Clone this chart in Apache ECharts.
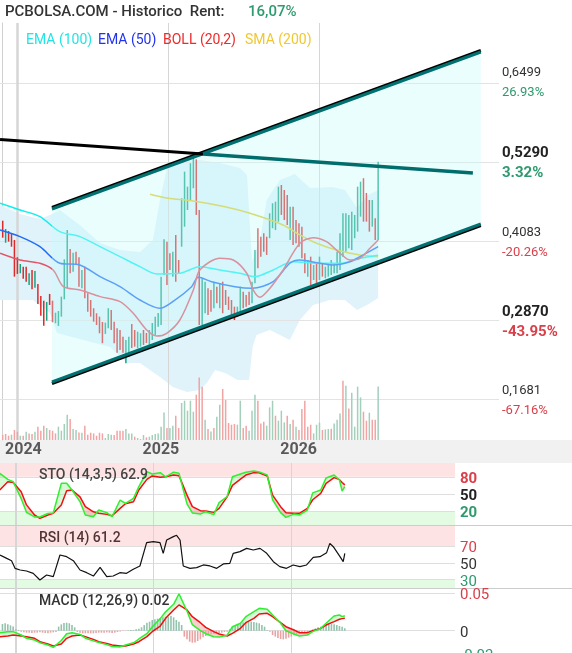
<!DOCTYPE html>
<html><head><meta charset="utf-8">
<script src="https://cdn.jsdelivr.net/npm/echarts@6/dist/echarts.min.js"></script>
<style>html,body{margin:0;padding:0;background:#fff}#c{width:572px;height:653px}</style>
</head><body><div id="c"></div><script>
// ---------- DATA (x = weekly bar index) ----------
const barHigh = [.4413,.4287,.4257,.4222,.4121,.3859,.3757,.3716,.3716,.3616,.3666,.3651,.3454,.3272,.3201,.3181,.3303,.3201,.3019,.3045,
.3262,.3828,.4272,.3984,.3928,.3944,.3859,.3666,.3716,.3313,.3211,.3086,.3010,.2959,.2878,.2868,.3086,.3060,.2883,.2783,
.2757,.2656,.2605,.2656,.2848,.2757,.2731,.2707,.2757,.2712,.2757,.2863,.2959,.3015,.3565,.4131,.4095,.3919,.3944,.4197,
.3817,.4753,.5156,.4928,.5283,.5359,.5343,.4575,.3540,.3489,.3389,.3363,.3489,.3413,.3465,.3489,.3363,.3262,.3211,.3110,
.3110,.3413,.3338,.3287,.3338,.3489,.3969,.4298,.4171,.4222,.4171,.4525,.4677,.4701,.4928,.4954,.4878,.4803,.4625,.4625,
.4423,.4374,.4322,.3919,.3817,.3868,.3742,.3767,.3868,.3767,.3716,.3742,.3817,.3767,.3944,.4222,.4525,.4525,.4500,.4550,
.4500,.4928,.5004,.5056,.4833,.4726,.4726,.4449,.5307];
const barLow = [.4155,.4079,.4095,.4019,.3565,.3606,.3616,.3534,.3489,.3439,.3374,.3398,.3151,.2974,.2822,.2898,.3136,.2874,.2859,.2818,
.2959,.3222,.3389,.3616,.3640,.3742,.3413,.3389,.3237,.3034,.2959,.2883,.2833,.2707,.2556,.2697,.2783,.2757,.2556,.2413,
.2454,.2413,.2253,.2353,.2484,.2504,.2480,.2504,.2530,.2560,.2530,.2605,.2681,.2807,.2833,.3590,.3439,.3666,.3565,.3489,
.3616,.4019,.4322,.4575,.4726,.4904,.4500,.2833,.2833,.3010,.2985,.3034,.3086,.3162,.3086,.3010,.3136,.3060,.2985,.2908,
.2959,.3034,.3086,.3110,.3136,.3162,.3465,.3692,.3868,.3944,.3894,.4147,.4298,.4272,.4398,.4500,.4423,.4348,.4121,.4045,
.4071,.4019,.3843,.3616,.3565,.3439,.3514,.3465,.3514,.3565,.3540,.3565,.3590,.3616,.3616,.3666,.3868,.3944,.3995,.3969,
.4147,.4247,.4474,.4398,.4398,.4247,.4322,.4120,.4120];
const barDir = ("RGRRRRGRRG"+"RGRRRGRRGG"+"GGGRGRRGRR"+"RRRRRGGRRR"+"RRGGRRGGRR"+"GGGGGGRRGR"+"RGGGGGRRGG"+"RRGRGRRRRR"+"GGRRRGGRRR"+"RGGGGRRRGR"+"RRRRGRGRGR"+"GGGGGGGGGG"+"GGGRRRGRG").split('');

const volume = [5.3,6,4.3,5.3,10,8.3,4.3,4.3,8.3,6.6, 6,8.3,13.3,9.3,14.3,12,10,9.3,6.6,13.3, 9.3,16,25.3,21,11,10,7.6,7.3,14.3,5.3,
7.3,6.6,4.3,7.3,6.6,2,6,5.3,5,9.3, 9.3,9.3,11,6.6,6.6,3.3,2,1,5,2.6, 3.3,5,6,6.6,13.3,27.6,12,12,14.3,24.3,
12,37,39.3,29.3,39.3,28.3,45.3,62.6,53.3,20.3, 11,8.6,12,23.3,35.3,51,40,17,15.3,16, 15.3,39.3,12,14.3,9.3,29.3,45.3,39.3,16.6,18.3,
14.3,32.6,39.3,24.3,19.3,29.3,17.6,24.3,16,20.3, 13.3,10,31,39.3,13.3,15.3,6.6,15.3,17.3,10, 10.6,11,11.3,16.6,20.3,26.6,59.3,54.3,31.6,47.3,
13.3,53.3,42.6,28.3,19.3,27.3,20.3,20.3,53.6];
const volDir = ("RRRGRRGRGR"+"RGRRRGRRRG"+"GGGRGGRGRR"+"RRRRRGGGRR"+"RRGGGRGGGR"+"GGGGGGRGGR"+"RGGGGGRRRG"+"RGRGGRRRRR"+"GGRRGGGRRR"+"GGGRGGGRGR"+"GRRRRRGGGR"+"GGRGGGRGRG"+"GGGRRGRRG").split('');

const ema100 = [[-0.9,.4677],[5.9,.4575],[12.7,.4474],[19.5,.4247],[26.3,.4171],[33.2,.4019],[40,.3868],[46.8,.3716],[52.5,.3606],[60.4,.3616],[67.2,.3716],[74.1,.3666],[80.9,.3616],[86,.3565],[92.2,.3666],[99,.3792],[108.1,.3767],[115,.3767],[121.8,.3843],[128,.3890]];
const ema50 = [[-0.9,.4272],[5.9,.4171],[12.7,.4019],[19.5,.3768],[26.3,.3742],[33.2,.3565],[40,.3413],[46.8,.3211],[53.6,.3086],[58.7,.3211],[64.4,.3413],[66.7,.3556],[71.2,.3489],[79.2,.3413],[85,.3389],[92.2,.3489],[97.9,.3768],[101.3,.3817],[108.1,.3768],[112.7,.3742],[118.4,.3792],[121.8,.3868],[128,.4020]];
const bollMid = [[-0.9,.3919],[5.9,.3817],[12.7,.3767],[17.2,.3666],[20.7,.3413],[26.3,.3363],[33.2,.3262],[40,.3186],[44.5,.3010],[49.1,.2757],[52.5,.2666],[55.9,.2707],[60.4,.2908],[65,.3363],[67.2,.3666],[74.1,.3843],[78.6,.3817],[83.2,.3616],[85.4,.3363],[87.7,.3253],[91.1,.3389],[95.6,.3666],[101.3,.4071],[105.9,.4156],[110.4,.4095],[115,.3919],[118.4,.3817],[121.8,.3843],[125.2,.3995],[128,.4120]];
const sma200 = [[50.2,.4813],[56.4,.4753],[64.4,.4716],[75.8,.4625],[84.3,.4525],[95.6,.4348],[101.3,.4197],[107,.4071],[113.8,.3969],[121.8,.3893],[128,.3868]];
const bandUp = [[-0.9,.4651],[5.9,.4514],[12.7,.4439],[16.1,.4499],[19.5,.4575],[26.3,.4348],[33.2,.4075],[40,.3969],[46.8,.3939],[51.2,.4120],[53.6,.4726],[56,.5212],[60.4,.5332],[67.2,.5332],[74.1,.5287],[80.9,.5212],[83.3,.5106],[85,.3787],[87.7,.4121],[90,.4726],[94.5,.5030],[99.6,.5121],[104.8,.4909],[112.6,.4924],[116.7,.4878],[120.8,.4606],[124.5,.4803],[128,.4878]];
const bandLow = [[-0.9,.3211],[10.3,.3211],[16.1,.3015],[18.5,.2712],[27.4,.2605],[36.6,.2499],[42.4,.2257],[46.8,.2257],[53.6,.2045],[58,.1894],[62.8,.1818],[67.2,.1848],[69.6,.1954],[72.4,.2151],[76,.2100],[80,.2000],[84,.2000],[85.2,.2500],[86.5,.2681],[91.1,.2757],[97.9,.2605],[101.3,.2908],[105.8,.3136],[111.5,.3211],[116.7,.3211],[120.8,.3060],[124.2,.3136],[128,.3242]];

const channelUpper = [[16.8,.4590],[163,.6969]];
const channelLower = [[16.8,.1969],[163,.4363]];
const resistBlack = [[-0.9,.5643],[68.3,.5424]];
const resistTeal = [[68.3,.5424],[160.3,.5136]];

const priceTicks = [0.6499,0.5290,0.4083,0.2870,0.1681];
const priceTickText = ['0,6499','0,5290','0,4083','0,2870','0,1681'];
const pctTickText = ['26.93%','3.32%','-20.26%','-43.95%','-67.16%'];
const yearTicks = [4.9,56.3,107.8];
const yearLabels = ['2024','2025','2026'];

const indX = [-1,2,4,7,9,12,14,17,19,22,24,26,29,31,34,36,39,41,44,46,49,51,54,56,59,61,64,66,69,71,74,76,79,81,84,86,89,91,94,96,99,101,104,106,109,111,114,116,119,121,124,126,127,128];
const stoD = [57,71.5,70,54,31,13.4,7.6,13.4,16.3,31,55.8,57,45,28,19,16.5,14.5,12,25,33,36.6,57,75.5,81.4,79,80,83,82,48,28,21,20.4,18,25,45,65,76,83,87.2,87,81.4,48,28,17.5,16.3,16.3,25,40,51.2,68.6,78.5,75,70,66];
const stoK = [86,75.5,71.5,42,18,10,10,16,17,68.6,68.6,57,36.6,13.4,10.5,22.1,17.5,10.5,39.5,33.7,42.5,62.8,88.9,84.8,87.2,80,88,86,33,17,15,19.2,14,35,45.4,80,84.8,88,90,88.5,83.1,40,17.5,9.3,15,13.4,22.1,52,57,78,83.1,74.4,55,62.9];
const macdLine = [-0.0026,-0.0013,-0.0013,-0.0057,-0.0101,-0.0124,-0.0159,-0.019,-0.0221,-0.013,-0.004,-0.0026,-0.005,-0.010,-0.0135,-0.0157,-0.0185,-0.021,-0.0215,-0.019,-0.016,-0.011,-0.004,0.005,0.016,0.025,0.035,0.049,0.026,0.008,0,-0.004,-0.008,-0.0085,-0.006,0.0053,0.0098,0.0186,0.0252,0.0297,0.0283,0.0208,0.0098,0,-0.0044,-0.007,-0.0057,-0.0013,0.0031,0.0098,0.0195,0.0208,0.0186,0.0199];
const macdSignal = [-0.0079,-0.007,-0.0057,-0.007,-0.0079,-0.0101,-0.0146,-0.0177,-0.0203,-0.0177,-0.0101,-0.007,-0.0057,-0.0079,-0.0115,-0.0146,-0.0168,-0.019,-0.0203,-0.0203,-0.0177,-0.0146,-0.0079,-0.0013,0.0062,0.0164,0.0275,0.0341,0.0275,0.0186,0.0106,0.0044,-0.0013,-0.0044,-0.007,-0.0035,0.0031,0.0106,0.0164,0.0221,0.023,0.0186,0.0106,0.0053,0.0009,-0.0026,-0.0026,0,0.0031,0.0075,0.012,0.0151,0.016,0.0164];
const macdHist = [0.0089,0.0098,0.0084,0.0071,0.0054,0.002,0.001,-0.0013,-0.0022,-0.0026,-0.0026,-0.0031,-0.0026,-0.0026,-0.0022,-0.0026,-0.0031,-0.0035,-0.0026,-0.0022,-0.0017,
0.0054,0.0084,0.0102,0.0106,0.0098,0.0075,0.0045,-0.0017,-0.0026,-0.0035,-0.0035,-0.0035,-0.0035,-0.0035,-0.0031,-0.0026,-0.0026,-0.0026,-0.0022,-0.0026,-0.0031,-0.0026,-0.0017,
-0.001,-0.0005,-0.0003,0.0005,0.0008,0.0009,0.0018,0.0027,0.0045,0.0075,0.0106,0.012,0.0142,0.0151,0.016,0.0168,0.0177,0.0186,0.0186,0.0195,0.0177,0.0142,0.012,0.0075,
-0.0079,-0.0115,-0.0146,-0.0159,-0.0155,-0.0137,-0.0115,-0.0088,-0.007,-0.0057,-0.0048,-0.0044,-0.0035,-0.0035,-0.0026,-0.0017,-0.0013,
0.0018,0.0053,0.0075,0.0089,0.0098,0.0107,0.0115,0.012,0.012,0.0115,0.0107,0.0098,0.0075,0.0053,0.0009,-0.0013,
-0.0057,-0.0079,-0.0097,-0.011,-0.0115,-0.0106,-0.0092,-0.0079,-0.0061,-0.0044,-0.0035,-0.0026,-0.0022,-0.0017,-0.0013,
0.0018,0.0031,0.0045,0.0053,0.0062,0.0075,0.0084,0.0089,0.0084,0.0075,0.0062,0.0053,0.0031];
const rsiK = [-0.9,1.6,3.4,4.7,6.6,9.0,11.5,14.0,16.5,19.0,21.5,24.0,26.5,29.0,31.5,34.0,36.5,39.0,41.4,43.9,46.4,48.9,51.4,53.9,56.4,58.9,60.1,61.4,63.9,65.1,66.4,67.6,70.1,72.6,75.1,77.6,80.1,82.6,85.0,86.3,88.8,91.3,93.8,96.3,98.8,101.3,103.7,106.2,108.7,111.2,113.7,116.2,118.7,121.2,122.4,123.7,126.2,127.4,128];
const rsiV = [59.4,55.4,52.6,43.5,41.5,40.3,37.5,29.6,35.5,33.5,59.4,57.4,52.6,41.5,38.3,34.3,44.7,33.5,34.3,38.3,37.5,42.3,46.3,74.1,75.3,74.1,61.4,77.3,81.3,82.9,77.3,46.3,43.5,44.3,47.5,46.3,43.5,48.7,49.4,61.4,63.4,67.3,65.4,67.3,61.4,51.4,45.5,43.5,47.5,45.5,47.5,56.6,57.4,62.2,73.3,69.3,57.4,51.4,61.2];

// ---------- CHART ----------
const XMIN = -0.92, XMAX = 169.2;
const FONT = 'Roboto';
const GREEN_T = '#2e9a6e', RED_T = '#d9404a';
const chart = echarts.init(document.getElementById('c'));

const grids = [
  {left:0, top:23, width:499, height:417},
  {left:0, top:360, width:499, height:80},
  {left:0, top:440, width:455, height:23},
  {left:0, top:463, width:455, height:62},
  {left:0, top:526, width:455, height:62},
  {left:0, top:588, width:455, height:70}
].map(g=>Object.assign(g, {outerBoundsMode:'none', containLabel:false}));
const xAxes = grids.map((g,i)=>({type:'value', gridIndex:i, min:XMIN, max:XMAX, show:false}));

function paneAxis(idx, min, max, vals, styles, texts){
  const base = {fontSize:15, fontFamily:FONT, padding:[5,0,0,0]};
  const rich = {
    rb:Object.assign({color:RED_T, fontWeight:'bold'}, base),
    kb:Object.assign({color:'#222', fontWeight:'bold'}, base),
    gb:Object.assign({color:GREEN_T, fontWeight:'bold'}, base),
    r:Object.assign({color:RED_T}, base),
    k:Object.assign({color:'#333'}, base),
    g:Object.assign({color:GREEN_T}, base)
  };
  return {type:'value', gridIndex:idx, min:min, max:max, position:'right',
    axisLine:{show:false}, axisTick:{show:false}, splitLine:{show:false},
    axisLabel:{customValues:vals, margin:5, rich:rich, hideOverlap:false,
      formatter:function(v){const i=vals.findIndex(t=>Math.abs(t-v)<1e-9); return i<0?'':'{'+styles[i]+'|'+texts[i]+'}';}}};
}

const yAxes = [
  {type:'value', gridIndex:0, min:0.1090, max:0.7408, position:'right',
   axisLine:{show:true, lineStyle:{color:'#d0d0d0'}}, axisTick:{show:false}, splitLine:{show:false},
   axisLabel:{customValues:priceTicks, margin:3,
     formatter:function(v){
       const i = priceTicks.findIndex(t=>Math.abs(t-v)<1e-7); if(i<0) return '';
       const b = (i===1||i===3)?'b':''; const c = i<2?'g':'r';
       return '{p'+b+'|'+priceTickText[i]+'}\n{'+c+b+'|'+pctTickText[i]+'}';
     },
     rich:{
       p:{fontFamily:FONT, fontSize:13, color:'#333', lineHeight:20},
       pb:{fontFamily:FONT, fontSize:15, fontWeight:'bold', color:'#222', lineHeight:20},
       g:{fontFamily:FONT, fontSize:13, color:GREEN_T, lineHeight:20},
       gb:{fontFamily:FONT, fontSize:15, fontWeight:'bold', color:GREEN_T, lineHeight:20},
       r:{fontFamily:FONT, fontSize:13, color:RED_T, lineHeight:20},
       rb:{fontFamily:FONT, fontSize:15, fontWeight:'bold', color:RED_T, lineHeight:20}
     }}},
  {type:'value', gridIndex:1, min:0, max:80, show:false},
  {type:'value', gridIndex:2, min:0, max:1, show:false},
  paneAxis(3, -4, 104, [80,50,20], ['rb','kb','gb'], ['80','50','20']),
  paneAxis(4, 20, 94, [70,50,30], ['r','k','g'], ['70','50','30']),
  paneAxis(5, -0.0362, 0.0566, [0.05,0,-0.03], ['r','k','g'], ['0.05','0','-0.03'])
];

function vLines(widthFirst){
  return yearTicks.map((v,i)=>({xAxis:v, lineStyle:{color:'#d6d6d6', width:i===0?widthFirst:1, type:'solid'}}));
}
function hLines(vals, color){
  return vals.map(v=>({yAxis:v, lineStyle:{color:color||'#dedede', width:1, type:'solid'}}));
}
function polygonSeries(xi, yi, pts, fill, z){
  return {type:'custom', xAxisIndex:xi, yAxisIndex:yi, z:z, silent:true, clip:true,
    data: pts, encode:{x:0, y:1},
    renderItem:function(params, api){
      if(params.dataIndex!==0) return null;
      return {type:'polygon', shape:{points: pts.map(p=>api.coord(p))}, style:{fill:fill}};
    }};
}
function fillBetween(xi, yi, xs, a, b, colA, colB, z){
  return {type:'custom', xAxisIndex:xi, yAxisIndex:yi, z:z, silent:true, clip:true,
    data: xs.map((x,i)=>[x, a[i], b[i]]), encode:{x:0, y:[1,2]},
    renderItem:function(params, api){
      const i = params.dataIndex; if(i>=xs.length-1) return null;
      const x0=xs[i], x1=xs[i+1], a0=a[i], a1=a[i+1], b0=b[i], b1=b[i+1];
      const d0=a0-b0, d1=a1-b1, C=p=>api.coord(p), ch=[];
      if(d0*d1>=0){
        ch.push({type:'polygon', shape:{points:[C([x0,a0]),C([x1,a1]),C([x1,b1]),C([x0,b0])]}, style:{fill:(d0+d1)>=0?colA:colB}});
      } else {
        const t=d0/(d0-d1), xm=x0+(x1-x0)*t, ym=a0+(a1-a0)*t;
        ch.push({type:'polygon', shape:{points:[C([x0,a0]),C([xm,ym]),C([x0,b0])]}, style:{fill:d0>0?colA:colB}});
        ch.push({type:'polygon', shape:{points:[C([xm,ym]),C([x1,a1]),C([x1,b1])]}, style:{fill:d1>0?colA:colB}});
      }
      return {type:'group', children:ch};
    }};
}
function lineS(xi, yi, data, color, width, z, smooth){
  return {type:'line', xAxisIndex:xi, yAxisIndex:yi, data:data, showSymbol:false, symbol:'none', smooth:smooth||false,
    silent:true, z:z, lineStyle:{color:color, width:width}};
}

const series = [];
const band = polygonSeries(0,0, bandUp.concat(bandLow.slice().reverse()), '#e0f2fa', 1);
band.markLine = {silent:true, symbol:['none','none'], z:2, label:{show:false}, animation:false,
  data: hLines(priceTicks, '#e3e3e3').concat(vLines(2.5))};
series.push(band);
series.push({type:'custom', xAxisIndex:1, yAxisIndex:1, z:3, silent:true,
  data: volume.map((v,i)=>[i, v, volDir[i]==='G'?1:0]), encode:{x:0,y:1},
  renderItem:function(p, api){
    const a=api.coord([api.value(0),0]), b=api.coord([api.value(0),api.value(1)]);
    return {type:'rect', shape:{x:a[0]-0.75, y:b[1], width:1.5, height:a[1]-b[1]},
      style:{fill: api.value(2)?'#a3cfbb':'#f2a3a3'}};
  }});
series.push({type:'custom', xAxisIndex:0, yAxisIndex:0, z:3, silent:true,
  data: barHigh.map((h,i)=>[i, h, barLow[i], barDir[i]==='G'?1:0]), encode:{x:0, y:[1,2]},
  renderItem:function(p, api){
    const a=api.coord([api.value(0),api.value(1)]), b=api.coord([api.value(0),api.value(2)]);
    return {type:'line', shape:{x1:a[0],y1:a[1],x2:b[0],y2:b[1]},
      style:{stroke: api.value(3)?'#17a483':'#dc2a2a', lineWidth:1.5}};
  }});
series.push(lineS(0,0, sma200, '#dccb2c', 1.5, 4, 0.3));
series.push(lineS(0,0, ema100, '#11eeee', 1.5, 4, 0.3));
series.push(lineS(0,0, ema50, '#1f6cf5', 1.5, 4, 0.3));
series.push(lineS(0,0, bollMid, '#e25668', 1.5, 4, 0.3));
series.push(polygonSeries(0,0, [channelUpper[0], channelUpper[1], channelLower[1], channelLower[0]], 'rgba(200,252,252,0.36)', 5));
const chUp = lineS(0,0, channelUpper, '#007070', 3, 6);
chUp.lineStyle.shadowColor='#000'; chUp.lineStyle.shadowBlur=0; chUp.lineStyle.shadowOffsetY=-1.5;
const chLo = lineS(0,0, channelLower, '#007070', 3, 6);
chLo.lineStyle.shadowColor='#000'; chLo.lineStyle.shadowBlur=0; chLo.lineStyle.shadowOffsetY=1.5;
series.push(chUp, chLo);
series.push(lineS(0,0, resistBlack, '#000', 3, 6));
series.push(lineS(0,0, resistTeal, '#006d6d', 3.5, 6));

series.push({type:'scatter', xAxisIndex:2, yAxisIndex:2, symbolSize:1, silent:true, z:5,
  itemStyle:{color:'rgba(0,0,0,0)'},
  data: yearTicks.map((v,i)=>({value:[v,0.55], name:yearLabels[i]})),
  label:{show:true, position:[-10,0], align:'left', verticalAlign:'middle', formatter:'{b}',
    fontFamily:FONT, fontWeight:'bold', fontSize:16, color:'#333'}});

const stoFill = fillBetween(3, 3, indX, stoK, stoD, 'rgba(120,235,120,0.30)', 'rgba(238,120,120,0.36)', 3);
stoFill.markArea = {silent:true, z:1, animation:false, data:[
  [{yAxis:80, itemStyle:{color:'#fde3e3'}},{yAxis:104}],
  [{yAxis:-4, itemStyle:{color:'#e3fbe3'}},{yAxis:20}]]};
stoFill.markLine = {silent:true, symbol:['none','none'], z:2, label:{show:false}, animation:false,
  data: hLines([80,50,20]).concat(vLines(2))};
series.push(stoFill);
series.push(lineS(3,3, indX.map((x,i)=>[x,stoD[i]]), '#f01010', 1.5, 4));
series.push(lineS(3,3, indX.map((x,i)=>[x,stoK[i]]), '#2ef02e', 1.5, 4));

const rsi = lineS(4,4, rsiK.map((x,i)=>[x,rsiV[i]]), '#111', 1.2, 4);
rsi.markArea = {silent:true, z:1, animation:false, data:[
  [{yAxis:70, itemStyle:{color:'#fde3e3'}},{yAxis:94}],
  [{yAxis:20, itemStyle:{color:'#e3fbe3'}},{yAxis:30}]]};
rsi.markLine = {silent:true, symbol:['none','none'], z:2, label:{show:false}, animation:false,
  data: hLines([70,50,30]).concat(vLines(2))};
series.push(rsi);
const rsiIndex = series.length-1;

const macdFill = fillBetween(5,5, indX, macdLine, macdSignal, 'rgba(120,235,120,0.30)', 'rgba(238,120,120,0.36)', 3);
macdFill.markLine = {silent:true, symbol:['none','none'], z:2, label:{show:false}, animation:false,
  data: hLines([0.05,0,-0.03]).concat(vLines(2))};
series.push(macdFill);
series.push({type:'custom', xAxisIndex:5, yAxisIndex:5, z:3, silent:true,
  data: macdHist.map((v,i)=>[i,v]), encode:{x:0,y:1},
  renderItem:function(p, api){
    const v=api.value(1), a=api.coord([api.value(0),0]), b=api.coord([api.value(0),v]);
    return {type:'rect', shape:{x:a[0]-0.8, y:Math.min(a[1],b[1]), width:1.6, height:Math.abs(a[1]-b[1])},
      style:{fill: v>=0?'#93c3ad':'#e9a2a2'}};
  }});
series.push(lineS(5,5, indX.map((x,i)=>[x,macdSignal[i]]), '#f01010', 1.5, 4));
series.push(lineS(5,5, indX.map((x,i)=>[x,macdLine[i]]), '#2ef02e', 1.5, 4));

function txt(x,y,s,color,size,weight){
  return {type:'text', x:x, y:y, z:100, style:{text:s, fill:color, fontFamily:FONT, fontSize:size, fontWeight:weight||'normal', textVerticalAlign:'middle', verticalAlign:'middle'}};
}

chart.setOption({
  animation:false,
  grid: grids,
  xAxis: xAxes,
  yAxis: yAxes,
  visualMap: [{type:'piecewise', show:false, seriesIndex:rsiIndex, dimension:1,
    pieces:[{gt:70, color:'#6a1818'},{gt:30, lte:70, color:'#111'},{lte:30, color:'#1a7a1a'}]}],
  graphic: [
    {type:'rect', z:0, shape:{x:0,y:440,width:572,height:23}, style:{fill:'#f1f1f1'}},
    {type:'line', z:0, shape:{x1:0,y1:525.5,x2:572,y2:525.5}, style:{stroke:'#cccccc', lineWidth:1}},
    {type:'line', z:0, shape:{x1:0,y1:588.5,x2:572,y2:588.5}, style:{stroke:'#cccccc', lineWidth:1}},
    txt(5,12,'PCBOLSA.COM - Historico  Rent:','#333',15,500),
    txt(248,12,'16,07%',GREEN_T,15,500),
    txt(26,40,'EMA (100)','#22e4e4',14),
    txt(98,40,'EMA (50)','#2233ee',14),
    txt(163,40,'BOLL (20,2)','#ee2a2a',14),
    txt(245,40,'SMA (200)','#f0c830',14),
    txt(39,475,'STO (14,3,5) 62.9','#444',14,500),
    txt(39,538,'RSI (14) 61.2','#553333',14,500),
    txt(39,601,'MACD (12,26,9) 0.02','#333',14,500)
  ],
  series: series
});
</script></body></html>
